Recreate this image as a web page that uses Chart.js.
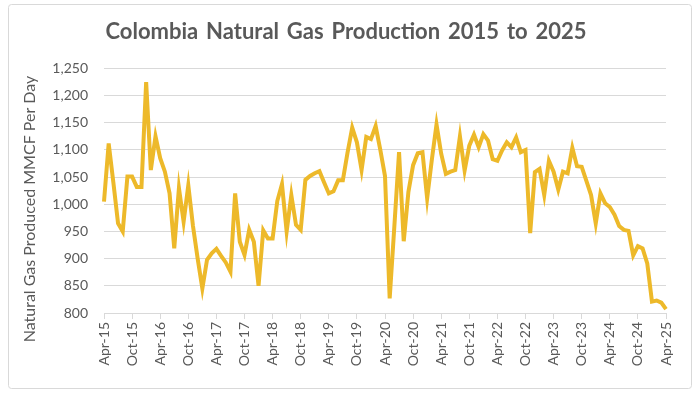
<!DOCTYPE html>
<html>
<head>
<meta charset="utf-8">
<script src="https://cdn.jsdelivr.net/npm/chart.js@4.4.1/dist/chart.umd.min.js"></script>
<style>
  html, body { margin: 0; padding: 0; background: #ffffff; }
  #wrap { position: relative; width: 700px; height: 399px; }
</style>
</head>
<body>
<div id="wrap"><canvas id="c" width="700" height="399"></canvas></div>
<script>
// ---- Data (monthly, Apr-15 .. Apr-25) ----
const months = ['Jan','Feb','Mar','Apr','May','Jun','Jul','Aug','Sep','Oct','Nov','Dec'];
const startYear = 2015, startMonth = 3; // April 2015
const monthCount = 121;
const categories = [];
for (let k = 0; k < monthCount; k++) {
  const m = (startMonth + k) % 12;
  const y = startYear + Math.floor((startMonth + k) / 12);
  categories.push(months[m] + '-' + String(y).slice(2));
}

const production2015_2016 = [1005, 1112, 1040, 965, 950, 1051, 1051, 1032, 1032, 1225, 1063, 1125,
                             1085, 1060, 1020, 919, 1030, 968, 1035, 960, 900, 845, 898, 910];
const production2017_2018 = [918, 905, 893, 876, 1020, 931, 907, 953, 931, 850, 952, 937,
                             937, 1006, 1037, 950, 1017, 962, 953, 1045, 1052, 1057, 1061, 1040];
const production2019_2020 = [1020, 1024, 1044, 1044, 1095, 1141, 1114, 1063, 1124, 1120, 1144, 1100,
                             1052, 827, 960, 1096, 932, 1023, 1072, 1094, 1096, 1011, 1082, 1147];
const production2021_2022 = [1093, 1056, 1060, 1063, 1125, 1062, 1108, 1128, 1105, 1129, 1117, 1083,
                             1080, 1099, 1114, 1105, 1123, 1096, 1100, 947, 1059, 1065, 1017, 1080];
const production2023_2025 = [1060, 1027, 1060, 1057, 1104, 1070, 1069, 1043, 1017, 965, 1020, 1002,
                             995, 981, 960, 953, 951, 906, 923, 919, 891, 821, 823, 819, 807];
const production = [].concat(production2015_2016, production2017_2018, production2019_2020,
                             production2021_2022, production2023_2025);

const yTicks = [800, 850, 900, 950, 1000, 1050, 1100, 1150, 1200, 1250];
const labelEvery = 6;

const titleText = 'Colombia Natural Gas Production 2015 to 2025';
const yTitleText = 'Natural Gas Produced MMCF Per Day';
const textColor = '#595959';
const gridColor = '#d9d9d9';
const lineColor = '#EDB92A';
const fontFamily = 'Lato, "Open Sans", sans-serif';

// ---- Plugins: outer frame, title word spacing and y-axis title ----
const framePlugin = {
  id: 'frame',
  beforeDraw(chart) {
    const ctx = chart.ctx;
    ctx.save();
    ctx.fillStyle = '#ffffff';
    ctx.fillRect(0, 0, chart.width, chart.height);
    ctx.strokeStyle = '#d9d9d9';
    ctx.lineWidth = 1;
    ctx.beginPath();
    ctx.roundRect(8.5, 4.5, 683, 384, 3);
    ctx.stroke();
    ctx.restore();
    if ('wordSpacing' in ctx) ctx.wordSpacing = '2.5px';
  },
  beforeDatasetsDraw(chart) {
    if ('wordSpacing' in chart.ctx) chart.ctx.wordSpacing = '0px';
  }
};
const yTitlePlugin = {
  id: 'yTitle',
  afterDraw(chart) {
    const ctx = chart.ctx;
    ctx.save();
    if ('wordSpacing' in ctx) ctx.wordSpacing = '0px';
    ctx.translate(30, 209);
    ctx.rotate(-Math.PI / 2);
    ctx.fillStyle = textColor;
    ctx.font = '16px ' + fontFamily;
    ctx.textAlign = 'center';
    ctx.textBaseline = 'middle';
    ctx.fillText(yTitleText, 0, 0);
    ctx.restore();
  }
};

new Chart(document.getElementById('c'), {
  type: 'line',
  data: {
    labels: categories,
    datasets: [{
      label: 'Production',
      data: production,
      borderColor: lineColor,
      backgroundColor: lineColor,
      borderWidth: 4,
      pointRadius: 0,
      tension: 0,
      fill: false
    }]
  },
  options: {
    responsive: false,
    animation: false,
    layout: { padding: { left: 17, right: 25, top: 0, bottom: 10 } },
    plugins: {
      legend: { display: false },
      tooltip: { enabled: false },
      title: {
        display: true,
        text: titleText,
        color: textColor,
        font: { family: fontFamily, size: 22, weight: 'bold' },
        padding: { top: 19, bottom: 23 }
      }
    },
    scales: {
      x: {
        type: 'category',
        offset: false,
        grid: {
          display: true,
          drawOnChartArea: false,
          drawTicks: true,
          tickLength: 6,
          color: gridColor
        },
        border: { display: true, color: gridColor, width: 1 },
        ticks: {
          autoSkip: false,
          maxRotation: 90,
          minRotation: 90,
          padding: 3,
          color: textColor,
          font: { family: fontFamily, size: 14 },
          callback(value, index) {
            return index % labelEvery === 0 ? categories[index] : null;
          }
        },
        afterFit(scale) { scale.height = 76; }
      },
      y: {
        min: yTicks[0],
        max: yTicks[yTicks.length - 1],
        afterBuildTicks(scale) { scale.ticks = yTicks.map(v => ({ value: v })); },
        grid: { color: gridColor, drawTicks: false },
        border: { display: false },
        ticks: {
          padding: 16,
          color: textColor,
          font: { family: fontFamily, size: 14 },
          callback(value) { return Number(value).toLocaleString('en-US'); }
        },
        afterFit(scale) { scale.width = 87; }
      },
      spacer: {
        type: 'linear',
        position: 'right',
        display: true,
        grid: { display: false, drawOnChartArea: false, drawTicks: false },
        border: { display: false },
        ticks: { display: false },
        afterFit(scale) { scale.width = 9; }
      }
    }
  },
  plugins: [framePlugin, yTitlePlugin]
});
</script>
</body>
</html>
